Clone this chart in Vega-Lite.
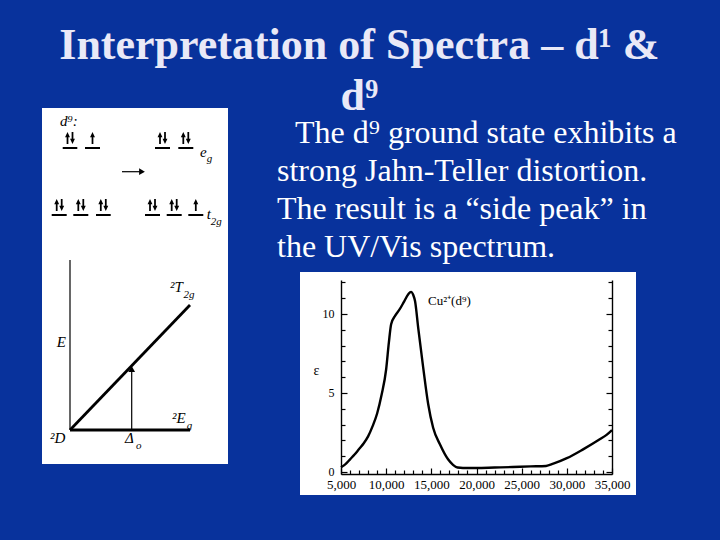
{
  "$schema": "https://vega.github.io/schema/vega-lite/v6.json",
  "background": "#08329c",
  "padding": {"left": 42, "top": 24, "right": 47, "bottom": 46},
  "config": {"view": {"stroke": null}, "font": "Liberation Serif"},
  "title": {
    "text": ["Interpretation of Spectra – d¹ &", "d⁹"],
    "font": "Liberation Serif", "fontSize": 44, "fontWeight": "bold",
    "color": "#e9e9f7", "lineHeight": 51, "anchor": "middle", "baseline": "alphabetic", "offset": -46
  },
  "spacing": 49,
  "hconcat": [
    {
      "width": 186, "height": 356,
      "view": {"fill": "white", "stroke": null},
      "layer": [
        {
          "data": {"values": [
            {"kind": "orbital", "x": 20.7, "x2": 35.3, "y": 316, "y2": 316},
            {"kind": "orbital", "x": 43, "x2": 58, "y": 316, "y2": 316},
            {"kind": "orbital", "x": 113, "x2": 128, "y": 316, "y2": 316},
            {"kind": "orbital", "x": 136.3, "x2": 151.3, "y": 316, "y2": 316},
            {"kind": "orbital", "x": 9.7, "x2": 24.7, "y": 249, "y2": 249},
            {"kind": "orbital", "x": 31.3, "x2": 46.3, "y": 249, "y2": 249},
            {"kind": "orbital", "x": 54, "x2": 68.7, "y": 249, "y2": 249},
            {"kind": "orbital", "x": 103, "x2": 118, "y": 249, "y2": 249},
            {"kind": "orbital", "x": 124.7, "x2": 139.7, "y": 249, "y2": 249},
            {"kind": "orbital", "x": 146.3, "x2": 161.3, "y": 249, "y2": 249},
            {"kind": "heavy", "x": 28, "x2": 148, "y": 34, "y2": 34},
            {"kind": "heavy", "x": 28, "x2": 148, "y": 34, "y2": 159},
            {"kind": "thin", "x": 28, "x2": 28, "y": 34, "y2": 204},
            {"kind": "thin", "x": 89.7, "x2": 89.7, "y": 34, "y2": 93},
            {"kind": "thin", "x": 80, "x2": 98, "y": 292.3, "y2": 292.3}
          ]},
          "layer": [
            {
              "transform": [{"filter": "datum.kind === 'orbital'"}],
              "mark": {"type": "rule", "color": "black", "strokeWidth": 2},
              "encoding": {
                "x": {"field": "x", "type": "quantitative", "scale": {"domain": [0, 186], "nice": false, "zero": false}, "axis": null},
                "x2": {"field": "x2"},
                "y": {"field": "y", "type": "quantitative", "scale": {"domain": [0, 356], "nice": false, "zero": false}, "axis": null},
                "y2": {"field": "y2"}
              }
            },
            {
              "transform": [{"filter": "datum.kind === 'heavy'"}],
              "mark": {"type": "rule", "color": "black", "strokeWidth": 2.8},
              "encoding": {
                "x": {"field": "x", "type": "quantitative", "axis": null},
                "x2": {"field": "x2"},
                "y": {"field": "y", "type": "quantitative", "axis": null},
                "y2": {"field": "y2"}
              }
            },
            {
              "transform": [{"filter": "datum.kind === 'thin'"}],
              "mark": {"type": "rule", "color": "black", "strokeWidth": 1.2},
              "encoding": {
                "x": {"field": "x", "type": "quantitative", "axis": null},
                "x2": {"field": "x2"},
                "y": {"field": "y", "type": "quantitative", "axis": null},
                "y2": {"field": "y2"}
              }
            }
          ]
        },
        {
          "data": {"values": [
            {"x": 89.7, "y": 95, "dir": "up"},
            {"x": 100, "y": 292.3, "dir": "right"}
          ]},
          "mark": {"type": "point", "filled": true, "color": "black", "opacity": 1, "size": 45},
          "encoding": {
            "x": {"field": "x", "type": "quantitative", "axis": null},
            "y": {"field": "y", "type": "quantitative", "axis": null},
            "shape": {"field": "dir", "type": "nominal", "scale": {"domain": ["up", "right"], "range": ["triangle-up", "triangle-right"]}, "legend": null}
          }
        },
        {
          "data": {"values": [
            {"x": 25.5, "y": 326, "spin": "up"}, {"x": 30.5, "y": 326, "spin": "down"}, {"x": 50.5, "y": 326, "spin": "up"},
            {"x": 118, "y": 326, "spin": "up"}, {"x": 123, "y": 326, "spin": "down"},
            {"x": 141.3, "y": 326, "spin": "up"}, {"x": 146.3, "y": 326, "spin": "down"},
            {"x": 14.7, "y": 259, "spin": "up"}, {"x": 19.7, "y": 259, "spin": "down"},
            {"x": 36.3, "y": 259, "spin": "up"}, {"x": 41.3, "y": 259, "spin": "down"},
            {"x": 58.8, "y": 259, "spin": "up"}, {"x": 63.8, "y": 259, "spin": "down"},
            {"x": 108, "y": 259, "spin": "up"}, {"x": 113, "y": 259, "spin": "down"},
            {"x": 129.7, "y": 259, "spin": "up"}, {"x": 134.7, "y": 259, "spin": "down"},
            {"x": 153.8, "y": 259, "spin": "up"}
          ]},
          "layer": [
            {
              "transform": [{"filter": "datum.spin === 'up'"}],
              "mark": {"type": "point", "shape": "arrow", "filled": true, "color": "black", "opacity": 1, "size": 150, "angle": 0},
              "encoding": {
                "x": {"field": "x", "type": "quantitative", "axis": null},
                "y": {"field": "y", "type": "quantitative", "axis": null}
              }
            },
            {
              "transform": [{"filter": "datum.spin === 'down'"}],
              "mark": {"type": "point", "shape": "arrow", "filled": true, "color": "black", "opacity": 1, "size": 150, "angle": 180},
              "encoding": {
                "x": {"field": "x", "type": "quantitative", "axis": null},
                "y": {"field": "y", "type": "quantitative", "axis": null}
              }
            }
          ]
        },
        {
          "data": {"values": [
            {"role": "main", "x": 18, "y": 343, "t": "d⁹:"},
            {"role": "main", "x": 158, "y": 312, "t": "e"},
            {"role": "sub", "x": 164.7, "y": 305, "t": "g"},
            {"role": "main", "x": 164.7, "y": 250, "t": "t"},
            {"role": "sub", "x": 168.7, "y": 242, "t": "2g"},
            {"role": "main", "x": 128, "y": 177, "t": "²T"},
            {"role": "sub", "x": 141.5, "y": 169, "t": "2g"},
            {"role": "main", "x": 14.7, "y": 122, "t": "E"},
            {"role": "main", "x": 130, "y": 46, "t": "²E"},
            {"role": "sub", "x": 144.7, "y": 38, "t": "g"},
            {"role": "main", "x": 8, "y": 26, "t": "²D"},
            {"role": "main", "x": 83, "y": 26, "t": "Δ"},
            {"role": "sub", "x": 94, "y": 18, "t": "o"}
          ]},
          "layer": [
            {
              "transform": [{"filter": "datum.role === 'main'"}],
              "mark": {"type": "text", "font": "Liberation Serif", "fontStyle": "italic", "fontSize": 15, "color": "black", "align": "left", "baseline": "middle"},
              "encoding": {
                "x": {"field": "x", "type": "quantitative", "axis": null},
                "y": {"field": "y", "type": "quantitative", "axis": null},
                "text": {"field": "t"}
              }
            },
            {
              "transform": [{"filter": "datum.role === 'sub'"}],
              "mark": {"type": "text", "font": "Liberation Serif", "fontStyle": "italic", "fontSize": 11, "color": "black", "align": "left", "baseline": "middle"},
              "encoding": {
                "x": {"field": "x", "type": "quantitative", "axis": null},
                "y": {"field": "y", "type": "quantitative", "axis": null},
                "text": {"field": "t"}
              }
            }
          ]
        }
      ]
    },
    {
      "spacing": 6,
      "vconcat": [
        {
          "width": 271, "height": 157,
          "data": {"values": [
            {"line": 1, "text": "The d⁹ ground state exhibits a"},
            {"line": 2, "text": "strong Jahn-Teller distortion."},
            {"line": 3, "text": "The result is a “side peak” in"},
            {"line": 4, "text": "the UV/Vis spectrum."}
          ]},
          "layer": [
            {
              "transform": [{"filter": "datum.line === 1"}],
              "mark": {"type": "text", "align": "left", "baseline": "alphabetic", "font": "Liberation Serif", "fontSize": 32, "color": "white", "dx": -46},
              "encoding": {
                "x": {"datum": 0, "type": "quantitative", "scale": {"domain": [0, 1]}, "axis": null},
                "y": {"field": "line", "type": "quantitative", "scale": {"domain": [0.0789, 4.2105], "reverse": true, "nice": false, "zero": false}, "axis": null},
                "text": {"field": "text"}
              }
            },
            {
              "transform": [{"filter": "datum.line > 1"}],
              "mark": {"type": "text", "align": "left", "baseline": "alphabetic", "font": "Liberation Serif", "fontSize": 32, "color": "white", "dx": -64},
              "encoding": {
                "x": {"datum": 0, "type": "quantitative", "axis": null},
                "y": {"field": "line", "type": "quantitative", "axis": null},
                "text": {"field": "text"}
              }
            }
          ]
        },
        {
          "width": 271, "height": 194,
          "layer": [
            {
              "data": {"values": [{}]},
              "mark": {"type": "rect", "color": "white"},
              "encoding": {
                "x": {"datum": 461, "type": "quantitative", "scale": {"domain": [5000, 35000], "nice": false, "zero": false}, "axis": null},
                "x2": {"datum": 37657},
                "y": {"datum": 12.66, "type": "quantitative", "scale": {"domain": [-0.13, 12.15], "nice": false, "zero": false}, "axis": null},
                "y2": {"datum": -1.46}
              }
            },
            {
              "data": {"values": [
                {"wn": 5000, "eps": 0.3}, {"wn": 5500, "eps": 0.5}, {"wn": 6000, "eps": 0.8},
                {"wn": 6500, "eps": 1.1}, {"wn": 7000, "eps": 1.45}, {"wn": 7500, "eps": 1.8},
                {"wn": 8000, "eps": 2.25}, {"wn": 8500, "eps": 2.9}, {"wn": 9000, "eps": 3.7},
                {"wn": 9500, "eps": 4.9}, {"wn": 10000, "eps": 6.5}, {"wn": 10300, "eps": 8.2},
                {"wn": 10550, "eps": 9.35}, {"wn": 11000, "eps": 9.9}, {"wn": 11500, "eps": 10.3},
                {"wn": 12000, "eps": 10.8}, {"wn": 12450, "eps": 11.25}, {"wn": 12750, "eps": 11.4},
                {"wn": 13000, "eps": 11.2}, {"wn": 13200, "eps": 10.8}, {"wn": 13550, "eps": 9.1},
                {"wn": 14100, "eps": 6.6}, {"wn": 14650, "eps": 4.3}, {"wn": 15200, "eps": 2.8},
                {"wn": 15950, "eps": 1.75}, {"wn": 16850, "eps": 0.8}, {"wn": 17400, "eps": 0.45},
                {"wn": 17900, "eps": 0.28}, {"wn": 18500, "eps": 0.25}, {"wn": 20000, "eps": 0.25},
                {"wn": 22000, "eps": 0.28}, {"wn": 24000, "eps": 0.31}, {"wn": 26000, "eps": 0.35},
                {"wn": 27700, "eps": 0.38}, {"wn": 28500, "eps": 0.52}, {"wn": 30000, "eps": 0.87},
                {"wn": 31800, "eps": 1.43}, {"wn": 33600, "eps": 2.05}, {"wn": 34400, "eps": 2.35},
                {"wn": 35000, "eps": 2.65}
              ]},
              "mark": {"type": "line", "interpolate": "monotone", "color": "black", "strokeWidth": 2.4},
              "encoding": {
                "x": {
                  "field": "wn", "type": "quantitative",
                  "axis": {
                    "orient": "bottom", "title": null, "grid": false, "zindex": 1,
                    "values": [5000, 6000, 7000, 8000, 9000, 10000, 11000, 12000, 13000, 14000, 15000, 16000, 17000, 18000, 19000, 20000, 21000, 22000, 23000, 24000, 25000, 26000, 27000, 28000, 29000, 30000, 31000, 32000, 33000, 34000, 35000],
                    "labelExpr": "datum.value % 5000 === 0 ? format(datum.value, ',') : ''",
                    "tickSize": {"condition": {"test": "datum.value % 5000 === 0", "value": -6}, "value": -4},
                    "tickColor": "black", "tickWidth": 1.2, "domainColor": "black", "domainWidth": 1.4,
                    "labelColor": "black", "labelFont": "Liberation Serif", "labelFontSize": 13,
                    "labelPadding": 10, "labelOverlap": false, "labelFlush": false
                  }
                },
                "y": {
                  "field": "eps", "type": "quantitative",
                  "axis": {
                    "orient": "left", "grid": false, "zindex": 1,
                    "values": [0, 1, 2, 3, 4, 5, 6, 7, 8, 9, 10, 11, 12],
                    "labelExpr": "datum.value % 5 === 0 ? datum.label : ''",
                    "tickSize": {"condition": {"test": "datum.value % 5 === 0", "value": -6}, "value": -4},
                    "tickColor": "black", "tickWidth": 1.2, "domainColor": "black", "domainWidth": 1.4,
                    "labelColor": "black", "labelFont": "Liberation Serif", "labelFontSize": 12,
                    "labelPadding": 13, "labelOverlap": false, "labelFlush": false,
                    "title": "ε", "titleAngle": 0, "titleFont": "Liberation Serif", "titleFontSize": 14,
                    "titleFontWeight": "normal", "titleColor": "black", "titlePadding": 6
                  }
                }
              }
            },
            {
              "data": {"values": [{"x": 14630, "y": 10.8, "label": "Cu²⁺(d⁹)"}]},
              "mark": {"type": "text", "font": "Liberation Serif", "fontSize": 13, "color": "black", "align": "left", "baseline": "middle"},
              "encoding": {
                "x": {"field": "x", "type": "quantitative", "axis": null},
                "y": {
                  "field": "y", "type": "quantitative",
                  "axis": {
                    "orient": "right", "grid": false, "zindex": 1, "labels": false, "title": null,
                    "values": [0, 1, 2, 3, 4, 5, 6, 7, 8, 9, 10, 11, 12],
                    "tickSize": {"condition": {"test": "datum.value % 5 === 0", "value": -6}, "value": -4},
                    "tickColor": "black", "tickWidth": 1.2, "domainColor": "black", "domainWidth": 1.4
                  }
                },
                "text": {"field": "label"}
              }
            }
          ],
          "resolve": {"axis": {"x": "independent", "y": "independent"}}
        }
      ]
    }
  ]
}
